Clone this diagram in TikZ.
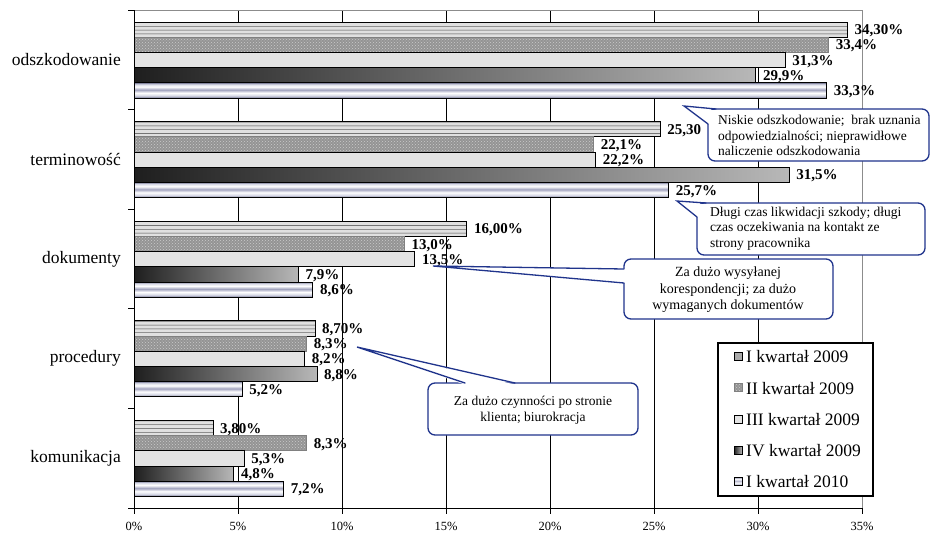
\documentclass[tikz,border=0pt]{standalone}
\usepackage{fontspec}
\setmainfont{Liberation Serif}
\usetikzlibrary{patterns}
\definecolor{cblue}{RGB}{32,52,140}
\definecolor{mA}{RGB}{120,122,150}
\definecolor{mB}{RGB}{215,217,230}
\definecolor{mC}{RGB}{160,162,190}
\pgfdeclareverticalshading{stripes}{100bp}{color(0bp)=(black!55); color(25bp)=(black!55); color(27bp)=(black!12); color(35bp)=(black!12); color(37.5bp)=(black!55); color(40bp)=(black!12); color(47.5bp)=(black!12); color(50bp)=(black!55); color(52.5bp)=(black!12); color(60bp)=(black!12); color(62.5bp)=(black!55); color(65bp)=(black!12); color(72.5bp)=(black!12); color(75bp)=(black!55); color(100bp)=(black!55)}
\pgfdeclareverticalshading{metal}{100bp}{color(0bp)=(mA); color(25bp)=(mA); color(33bp)=(mB); color(42bp)=(white); color(52bp)=(mC); color(62bp)=(white); color(70bp)=(mB); color(75bp)=(mA); color(100bp)=(mA)}
\tikzset{
  bar0/.style={shade, shading=stripes, draw=black, line width=0.9pt},
  bar1/.style={preaction={fill=black!42}, pattern=crosshatch dots, pattern color=white!80!black, draw=black!50, line width=0.8pt},
  bar2/.style={fill=black!11, draw=black, line width=0.9pt},
  bar3/.style={left color=black!88, right color=black!28, draw=black, line width=0.9pt},
  bar4/.style={shade, shading=metal, draw=black, line width=0.9pt},
  vlbl/.style={anchor=west, inner sep=0pt, font=\fontsize{15}{15}\selectfont\bfseries},
  catlbl/.style={anchor=east, inner sep=0pt, font=\fontsize{17.5}{18}\selectfont},
  axlbl/.style={inner sep=0pt, font=\fontsize{12.5}{13}\selectfont},
  leglbl/.style={anchor=west, inner sep=0pt, font=\fontsize{17.5}{18}\selectfont},
  cbox/.style={draw=cblue, fill=white, line width=1.3pt, rounded corners=7pt},
  cline/.style={draw=cblue, line width=1.3pt, line cap=round},
  ctext/.style={inner sep=0pt, font=\fontsize{13.5}{15.5}\selectfont},
  grid/.style={draw=black, line width=0.9pt}
}
\newcommand\mybar[4]{%
  \pgfmathsetmacro\myyt{22+99.6*#1+15.2*#2}%
  \pgfmathsetmacro\myxe{134+20.8*#3}%
  \path[bar#2] (134,\myyt) rectangle (\myxe,\myyt+15.2);
  \node[vlbl] (v#1#2) at (\myxe+7,\myyt+8.8) {#4};
}
\begin{document}
\begin{tikzpicture}[x=1pt,y=-1pt]
\useasboundingbox (0,0) rectangle (931,536);
\fill[white] (0,0) rectangle (931,536);
% gridlines
\foreach \k in {1,...,6} \draw[grid] ({134+104*\k},10) -- ({134+104*\k},508);
\draw[black!45, line width=1pt] (134,10) -- (862,10) -- (862,508);
% bars
\mybar{0}{0}{34.3}{34,30\%}
\mybar{0}{1}{33.4}{33,4\%}
\mybar{0}{2}{31.3}{31,3\%}
\mybar{0}{3}{29.9}{29,9\%}
\mybar{0}{4}{33.3}{33,3\%}
\mybar{1}{0}{25.3}{25,30}
\mybar{1}{1}{22.1}{22,1\%}
\mybar{1}{2}{22.2}{22,2\%}
\mybar{1}{3}{31.5}{31,5\%}
\mybar{1}{4}{25.7}{25,7\%}
\mybar{2}{0}{16.0}{16,00\%}
\mybar{2}{1}{13.0}{13,0\%}
\mybar{2}{2}{13.5}{13,5\%}
\mybar{2}{3}{7.9}{7,9\%}
\mybar{2}{4}{8.6}{8,6\%}
\mybar{3}{0}{8.7}{8,70\%}
\mybar{3}{1}{8.3}{8,3\%}
\mybar{3}{2}{8.2}{8,2\%}
\mybar{3}{3}{8.8}{8,8\%}
\mybar{3}{4}{5.2}{5,2\%}
\mybar{4}{0}{3.8}{3,80\%}
\mybar{4}{1}{8.3}{8,3\%}
\mybar{4}{2}{5.3}{5,3\%}
\mybar{4}{3}{4.8}{4,8\%}
\mybar{4}{4}{7.2}{7,2\%}
% axes
\draw[black, line width=1pt] (134,10) -- (134,508) -- (862,508);
\foreach \i in {0,...,5} \draw[black, line width=0.9pt] (128,{10+99.6*\i}) -- (134,{10+99.6*\i});
\foreach \k/\t in {0/0,1/5,2/10,3/15,4/20,5/25,6/30,7/35} {
  \draw[black, line width=0.9pt] ({134+104*\k},508) -- ({134+104*\k},514);
  \node[axlbl] (t\k) at ({134+104*\k},526) {\t\%};
}
% category labels
\node[catlbl] (c0) at (121,59.8) {odszkodowanie};
\node[catlbl] (c1) at (121,159.4) {terminowość};
\node[catlbl] (c2) at (121,259) {dokumenty};
\node[catlbl] (c3) at (121,358.6) {procedury};
\node[catlbl] (c4) at (121,458.2) {komunikacja};
% callout 1
\coordinate (p1) at (684,106);
\draw[cbox] (708,109) rectangle (929,161);
\fill[white] (p1) -- (716.5,110.6) -- (716.5,126) -- (709.6,124.6) -- cycle;
\draw[cline] (716,109) -- (p1) -- (708,124);
\node[ctext, anchor=west, align=left] (n1) at (718,135.5) {Niskie odszkodowanie;\ \ brak uznania\\odpowiedzialności; nieprawidłowe\\naliczenie odszkodowania};
% callout 2
\coordinate (p2) at (677,201);
\draw[cbox] (697,203) rectangle (925,255);
\fill[white] (p2) -- (706.5,204.6) -- (706.5,219) -- (698.6,217.6) -- cycle;
\draw[cline] (706,203) -- (p2) -- (697,217);
\node[ctext, anchor=west, align=left] (n2) at (710,228.5) {Długi czas likwidacji szkody; długi\\czas oczekiwania na kontakt ze\\strony pracownika};
% callout 3
\coordinate (p3) at (433,266);
\draw[cbox] (624,259) rectangle (833,319);
\fill[white] (p3) -- (625.6,269) -- (625.6,283) -- cycle;
\draw[cline] (624,269) -- (p3) -- (624,283);
\node[ctext, align=center, font=\fontsize{14}{16.5}\selectfont] (n3) at (728,290) {Za dużo wysyłanej\\korespondencji; za dużo\\wymaganych dokumentów};
% callout 4
\coordinate (p4) at (357,347);
\draw[cbox] (428,383) rectangle (638,435);
\fill[white] (p4) -- (465,384.6) -- (515,384.6) -- cycle;
\draw[cline] (465,383) -- (p4) -- (515,383);
\node[ctext, align=center] (n4) at (533,410) {Za dużo czynności po stronie\\klienta; biurokracja};
% legend
\draw[fill=white, line width=1.1pt] (718,343) rectangle (873,496);
\foreach \j/\t in {0/I kwartał 2009,1/II kwartał 2009,2/III kwartał 2009,3/IV kwartał 2009,4/I kwartał 2010} {
  \path[bar\j, line width=0.7pt] (734,{352.5+31.2*\j}) rectangle (742,{360.5+31.2*\j});
  \node[leglbl] (g\j) at (746,{357+31.2*\j}) {\t};
}
\end{tikzpicture}
\end{document}
